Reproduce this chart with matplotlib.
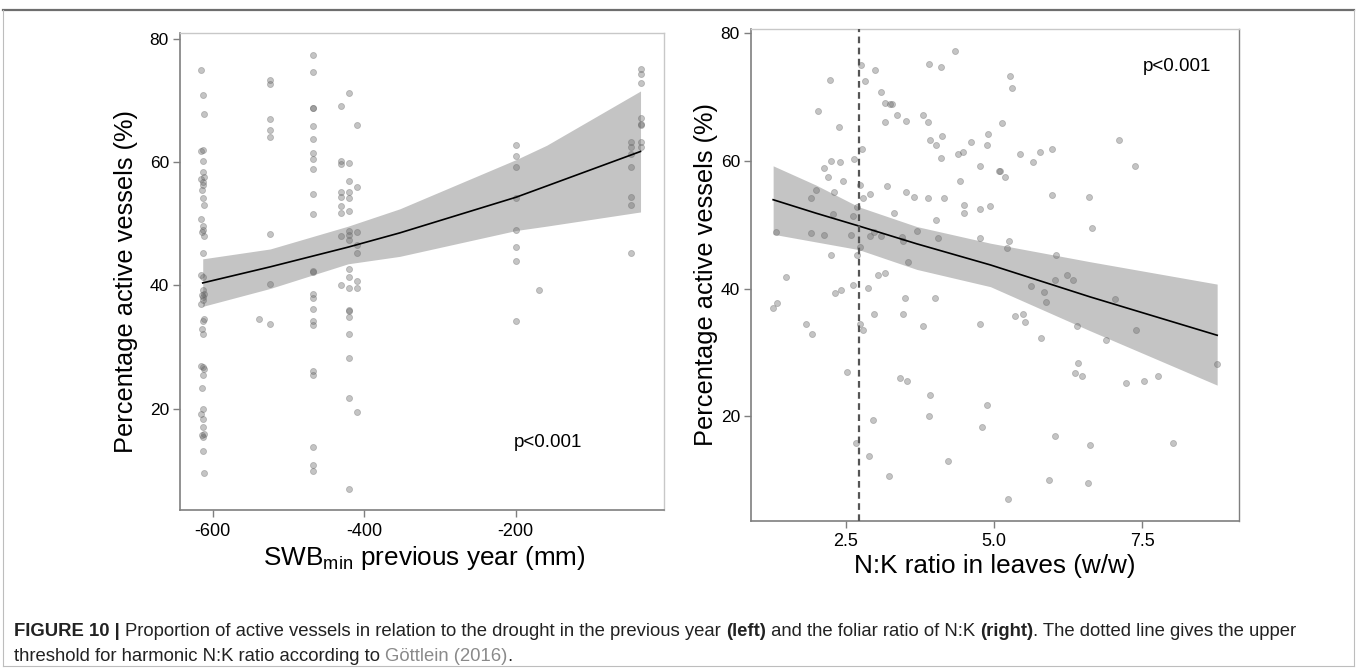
import matplotlib
matplotlib.use("Agg")
import matplotlib.pyplot as plt
from matplotlib.lines import Line2D
from matplotlib.transforms import IdentityTransform

plt.rcParams['font.family'] = ['Liberation Sans', 'DejaVu Sans']
plt.rcParams['mathtext.fontset'] = 'custom'
plt.rcParams['mathtext.rm'] = 'Liberation Sans'
plt.rcParams['axes.unicode_minus'] = False

# ---- left panel: SWBmin previous year vs. active vessels ----
swb = ([-615, -613, -611, -613, -615, -612, -613, -611, -615, -613, -612, -614,
        -613, -611, -615, -613, -612, -614, -611, -613, -615, -612, -613, -611,
        -614, -612, -613, -615, -611, -613, -614, -612, -615, -613, -611, -612,
        -614, -613, -615, -612, -613, -611, -614, -612, -613, -611]
       + [-524] * 8 + [-539]
       + [-467] * 23
       + [-430] * 9
       + [-420] * 19
       + [-409] * 8
       + [-199] * 8 + [-169]
       + [-48] * 7
       + [-35] * 8)
swb_pct = ([74.9, 70.8, 67.8, 61.9, 61.8, 60.1, 58.3, 57.5, 57.3, 56.7, 56.2, 55.4,
            54.2, 53.1, 50.8, 49.6, 48.9, 48.7, 48.0, 45.2, 41.7, 41.3, 39.2, 38.6,
            38.4, 38.1, 37.7, 37.0, 34.6, 34.3, 33.0, 32.1, 27.0, 26.7, 26.5, 25.4,
            23.3, 20.0, 19.2, 18.4, 17.1, 15.9, 15.7, 15.5, 13.2, 9.6]
           + [73.3, 72.6, 67.0, 65.2, 64.1, 48.4, 40.3, 33.7, 34.6]
           + [77.3, 74.6, 68.8, 68.7, 65.9, 63.8, 61.4, 60.5, 58.9, 54.8, 51.6, 42.3,
              42.2, 38.6, 37.9, 36.1, 34.3, 33.5, 26.1, 25.5, 13.8, 10.9, 10.0]
           + [69.0, 60.1, 59.7, 55.1, 54.3, 52.8, 51.8, 48.0, 40.0]
           + [71.2, 59.8, 56.9, 55.2, 54.1, 52.0, 48.8, 48.2, 47.4, 39.6, 42.6, 41.4,
              36.0, 35.8, 34.8, 32.2, 28.3, 21.8, 7.0]
           + [66.0, 55.9, 48.6, 46.6, 45.2, 40.7, 39.5, 19.5]
           + [62.8, 61.0, 59.2, 54.1, 49.0, 46.2, 44.0, 34.3, 39.2]
           + [63.2, 62.5, 61.3, 59.2, 54.4, 53.0, 45.3]
           + [75.1, 74.3, 72.8, 67.1, 66.1, 66.0, 63.2, 62.4])

swb_fit_x = [-613, -524, -421, -353, -199, -159, -35]
swb_fit = [40.4, 43.0, 46.2, 48.5, 54.3, 56.1, 61.7]
swb_hi = [44.3, 45.9, 49.6, 52.4, 60.4, 62.7, 71.5]
swb_lo = [36.6, 39.5, 43.5, 44.7, 48.9, 49.6, 51.9]

# ---- right panel: N:K ratio vs. active vessels ----
nk = [4.34, 3.90, 4.11, 2.76, 2.99, 2.23, 2.83, 3.10, 2.04, 3.17, 3.25, 3.28, 3.37,
      3.51, 3.16, 3.80, 3.89, 2.39, 4.12, 3.93, 4.02, 4.62, 4.90, 4.88, 4.39, 4.47,
      4.10, 2.78, 2.65, 2.26, 2.41, 2.14, 4.77, 5.09, 2.21, 2.45, 4.43, 2.74, 3.20,
      2.01, 2.31, 2.92, 3.52, 3.65, 3.89, 4.15, 1.92, 2.80, 4.50, 4.50, 4.76, 4.94,
      2.70, 2.29, 2.62, 3.32, 4.03, 1.32, 1.91, 2.14, 2.59, 2.91, 2.98, 3.10, 3.45,
      3.47, 3.70, 4.06, 4.76, 2.75, 2.70, 2.26, 3.56, 1.49, 3.05, 3.17, 2.33, 2.43,
      2.62, 2.87, 1.28, 1.35, 3.50, 4.00, 1.83, 1.93, 2.98, 3.46, 2.74, 2.80, 3.80,
      4.76, 2.53, 3.42, 3.54, 3.93, 3.90, 4.88, 4.80, 2.96, 2.68, 2.89, 4.22, 3.24,
      5.27, 5.30, 5.14, 7.11, 7.37, 5.44, 5.65, 5.77, 5.98, 5.10, 5.18, 5.98, 6.60,
      6.66, 5.25, 5.22, 6.04, 6.23, 6.33, 6.02, 5.63, 5.85, 5.87, 7.04, 5.35, 5.49,
      5.53, 6.40, 5.80, 6.88, 7.39, 8.76, 6.41, 6.36, 6.49, 7.22, 7.52, 7.76, 6.03,
      6.61, 8.02, 5.92, 6.58, 5.23]
nk_pct = [77.2, 75.1, 74.6, 74.9, 74.2, 72.7, 72.4, 70.8, 67.8, 69.0, 68.8, 68.8, 67.1,
          66.2, 66.0, 67.1, 66.0, 65.2, 63.8, 63.2, 62.4, 62.9, 64.1, 62.5, 61.1, 61.4,
          60.5, 61.9, 60.2, 60.0, 59.8, 58.8, 59.2, 58.4, 57.4, 56.9, 56.9, 56.2, 56.0,
          55.4, 55.1, 54.8, 55.1, 54.4, 54.1, 54.1, 54.1, 54.1, 53.0, 51.8, 52.5, 52.9,
          52.7, 51.6, 51.4, 51.8, 50.7, 48.9, 48.7, 48.4, 48.4, 48.3, 48.8, 48.2, 48.0,
          47.4, 49.0, 47.9, 47.9, 46.5, 45.2, 45.2, 44.1, 41.8, 42.1, 42.5, 39.3, 39.8,
          40.6, 40.1, 37.0, 37.7, 38.6, 38.6, 34.5, 32.9, 36.0, 36.0, 34.4, 33.5, 34.2,
          34.4, 27.0, 26.0, 25.6, 23.3, 20.0, 21.8, 18.3, 19.4, 15.8, 13.8, 13.0, 10.7,
          73.3, 71.3, 65.9, 63.2, 59.2, 61.0, 59.8, 61.3, 61.8, 58.4, 57.5, 54.6, 54.4,
          49.5, 47.4, 46.3, 45.3, 42.2, 41.4, 41.3, 40.4, 39.5, 37.9, 38.3, 35.7, 36.0,
          34.7, 34.1, 32.3, 32.0, 33.6, 28.2, 28.3, 26.8, 26.4, 25.3, 25.5, 26.4, 17.0,
          15.5, 15.8, 10.0, 9.6, 7.1]

nk_fit_x = [1.28, 2.0, 2.72, 3.7, 4.94, 6.62, 8.76]
nk_fit = [53.9, 51.8, 49.8, 47.0, 43.7, 38.7, 32.7]
nk_hi = [59.2, 56.2, 52.8, 49.7, 47.1, 44.2, 40.7]
nk_lo = [48.5, 47.3, 46.1, 43.0, 40.3, 33.4, 24.9]
nk_threshold = 2.72

W, H = 1358, 668
fig = plt.figure(figsize=(W / 100, H / 100), dpi=100)
ax1 = fig.add_axes([180 / W, 1 - 510 / H, 484 / W, 477 / H])
ax2 = fig.add_axes([751 / W, 1 - 521 / H, 488 / W, 492 / H])

dark = '#7f7f7f'
light = '#c8c8c8'


def style(ax, right_dark=False):
    for s in ['left', 'bottom']:
        ax.spines[s].set_color(dark)
        ax.spines[s].set_linewidth(1.2)
    ax.spines['top'].set_color(light)
    ax.spines['right'].set_color(dark if right_dark else light)
    ax.spines['top'].set_linewidth(1.0)
    ax.spines['right'].set_linewidth(1.0)
    ax.tick_params(direction='out', length=5, width=1, color=dark,
                   labelsize=13, pad=4)
    ax.tick_params(axis='y', labelsize=12.5, pad=3)
    ax.set_yticks([20, 40, 60, 80])


def panel(ax, x, y, fx, fy, lo, hi):
    ax.fill_between(fx, lo, hi, color='#c4c4c4', lw=0, zorder=1)
    ax.scatter(x, y, s=19, color='#666666', alpha=0.38, lw=0.6, zorder=2)
    ax.plot(fx, fy, color='black', lw=1.2, zorder=3)


panel(ax1, swb, swb_pct, swb_fit_x, swb_fit, swb_lo, swb_hi)
ax1.set_xlim(-643, -4)
ax1.set_ylim(3.6, 80.9)
ax1.set_xticks([-600, -400, -200])
style(ax1)
ax1.text(-157, 14.6, 'p<0.001', fontsize=13.5, ha='center', va='center')
ax1.set_ylabel('Percentage active vessels (%)', fontsize=18.3)
ax1.yaxis.set_label_coords(-0.087, 0.48)
ax1.set_xlabel(r'SWB$_{\mathregular{min}}$ previous year (mm)', fontsize=18.8)
ax1.xaxis.set_label_coords(0.505, -0.072)

panel(ax2, nk, nk_pct, nk_fit_x, nk_fit, nk_lo, nk_hi)
ax2.axvline(nk_threshold, color='#555555', lw=1.6, ls=(0, (3, 2)), zorder=4)
ax2.set_xlim(0.907, 9.128)
ax2.set_ylim(3.65, 80.6)
ax2.set_xticks([2.5, 5.0, 7.5])
ax2.set_xticklabels(['2.5', '5.0', '7.5'])
style(ax2, right_dark=True)
ax2.text(8.08, 74.7, 'p<0.001', fontsize=13.5, ha='center', va='center')
ax2.set_ylabel('Percentage active vessels (%)', fontsize=18.3)
ax2.yaxis.set_label_coords(-0.068, 0.5)
ax2.set_xlabel('N:K ratio in leaves (w/w)', fontsize=18.8)
ax2.xaxis.set_label_coords(0.5, -0.068)

# frame around the figure
fig.add_artist(Line2D([3, W - 4], [H - 10, H - 10], transform=IdentityTransform(),
                      color='#6e6e6e', lw=1.6))
for xs_, ys_ in [([3, 3], [H - 10, 2]), ([W - 4, W - 4], [H - 10, 2]),
                 ([3, W - 4], [2, 2])]:
    fig.add_artist(Line2D(xs_, ys_, transform=IdentityTransform(),
                          color='#bdbdbd', lw=0.8))

# caption, written in runs so that bold and grey parts line up
renderer = fig.canvas.get_renderer()
cap_size = 13.3


def width(s, weight):
    t = fig.text(0, 0, s + '|', fontsize=cap_size, fontweight=weight,
                 transform=IdentityTransform())
    b = fig.text(0, 0, '|', fontsize=cap_size, fontweight=weight,
                 transform=IdentityTransform())
    w = t.get_window_extent(renderer).width - b.get_window_extent(renderer).width
    t.remove()
    b.remove()
    return w


def runs(x, y, parts):
    for s, weight, color in parts:
        fig.text(x, y, s, fontsize=cap_size, fontweight=weight, color=color,
                 va='baseline', transform=IdentityTransform())
        x += width(s, weight)


runs(14, H - 636, [('FIGURE 10 | ', 'bold', '#222222'),
                   ('Proportion of active vessels in relation to the drought in the previous year ',
                    'normal', '#222222'),
                   ('(left)', 'bold', '#222222'),
                   (' and the foliar ratio of N:K ', 'normal', '#222222'),
                   ('(right)', 'bold', '#222222'),
                   ('. The dotted line gives the upper', 'normal', '#222222')])
runs(14, H - 661, [('threshold for harmonic N:K ratio according to ', 'normal', '#222222'),
                   ('Göttlein (2016)', 'normal', '#8a8a8a'),
                   ('.', 'normal', '#222222')])

fig.savefig('out.png', dpi=100)
